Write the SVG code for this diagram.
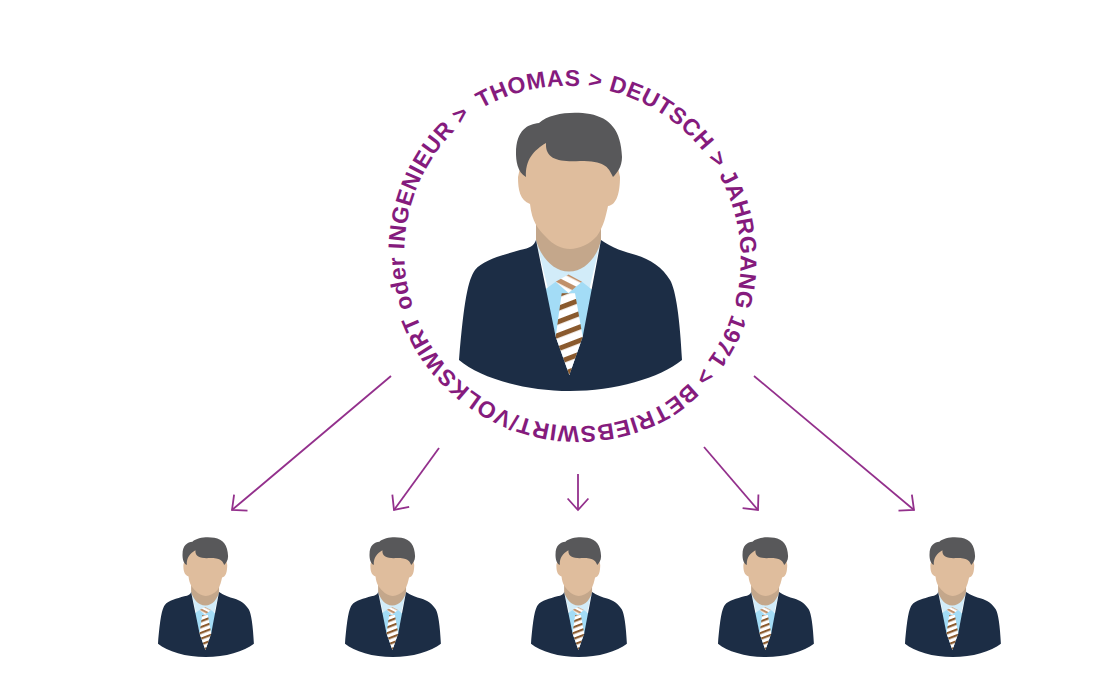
<svg xmlns="http://www.w3.org/2000/svg" xmlns:xlink="http://www.w3.org/1999/xlink" width="1098" height="698" viewBox="0 0 1098 698">
<style>
.ring{font-family:"Liberation Sans",Arial,sans-serif;font-weight:700;font-size:23px;fill:#851b7d;letter-spacing:.58px}
.arrow{fill:none;stroke:#93308c;stroke-width:1.8;marker-end:url(#head)}
</style>
<defs>
<marker id="head" viewBox="-14 -12 16 24" refX="0" refY="0" markerWidth="16" markerHeight="24" markerUnits="userSpaceOnUse" orient="auto"><path d="M-11.500,-10.400 L0,0 L-11.500,10.400" fill="none" stroke="#93308c" stroke-width="1.8"/></marker>
<pattern id="tieStripes" width="10" height="12.6" patternUnits="userSpaceOnUse" patternTransform="rotate(-21 570 320)"><rect width="10" height="12.6" fill="#fff"/><rect width="10" height="5" fill="#8a5a2e"/></pattern>
<pattern id="knotStripes" width="10" height="10.500" patternUnits="userSpaceOnUse" patternTransform="rotate(27 570 284)"><rect width="10" height="10.500" fill="#fff"/><rect width="10" height="5" fill="#c0906a"/></pattern>
<g id="person">
<path d="M536,240L601,240L569,375Z" fill="#d2ecf9"/>
<path d="M543.300,290.700L555.700,281.700L570,290L582,281.700L595,292L583,337L569,375L556,337Z" fill="#a3dcf6"/>
<path d="M536,226V240C540,255 552,271.500 569,271.500C586,271.500 598,255 601,240V205H536Z" fill="#c4a78b"/>
<path d="M518,177C518,190 520,200 530,204C532,222 538,229 546,237C553,245 562,249 570,249C579,249 590,244 597,236C604,226 606,215 608,206C617,205 620,192 620,177L612,140H526Z" fill="#dfbd9d"/>
<path d="M526,177C517,172 516,160 516,153C516,130 528,124 539,123C550,113 573,111 590,114C610,118 621,130 622,157C622,167 617,173 613,177C608,166 604,161 580,161C560,162 545,160 546,143C534,150 525,160 526,177Z" fill="#58585a"/>
<path d="M536,240C534,246 530,248 520,250C503,255 483,260 475,270C468,280 464,300 459,360C480,378 525,391 570,391C615,391 660,378 682,360C680,320 676,290 670,280C663,268 650,259 636,255C625,252 612,248 601,240L582.700,336.700L569.300,375L555.700,336.700Z" fill="#1c2d45"/>
<path d="M561.700,293.300H575L582.700,336.700L569.300,375L555.700,336.700Z" fill="url(#tieStripes)"/>
<path d="M555.700,281.700L568.500,274.500L582,281.700L568.500,293Z" fill="url(#knotStripes)"/>
</g>
</defs>
<g id="ring-label">
<path id="ringPath" d="M481.200,108.600A173.500,173.500 0 0 1 663.800,403.400A173.500,173.500 0 0 1 481.200,108.600" fill="none"/>
<text class="ring"><textPath xlink:href="#ringPath" href="#ringPath">THOMAS &gt; DEUTSCH &gt; JAHRGANG 1971 &gt; BETRIEBSWIRT/VOLKSWIRT oder INGENIEUR &gt;</textPath></text>
</g>
<g id="main-person"><use href="#person"/></g>
<g id="person-1"><use href="#person" transform="translate(158,537) scale(.43) translate(-459,-112)"/></g>
<g id="person-2"><use href="#person" transform="translate(345,537) scale(.43) translate(-459,-112)"/></g>
<g id="person-3"><use href="#person" transform="translate(531,537) scale(.43) translate(-459,-112)"/></g>
<g id="person-4"><use href="#person" transform="translate(718,537) scale(.43) translate(-459,-112)"/></g>
<g id="person-5"><use href="#person" transform="translate(905,537) scale(.43) translate(-459,-112)"/></g>
<g id="connectors">
<path class="arrow" d="M391,376L232,510"/>
<path class="arrow" d="M439,448L394,510"/>
<path class="arrow" d="M578,474V510"/>
<path class="arrow" d="M704,447L758,510"/>
<path class="arrow" d="M754,376L914,510"/>
</g>
</svg>
